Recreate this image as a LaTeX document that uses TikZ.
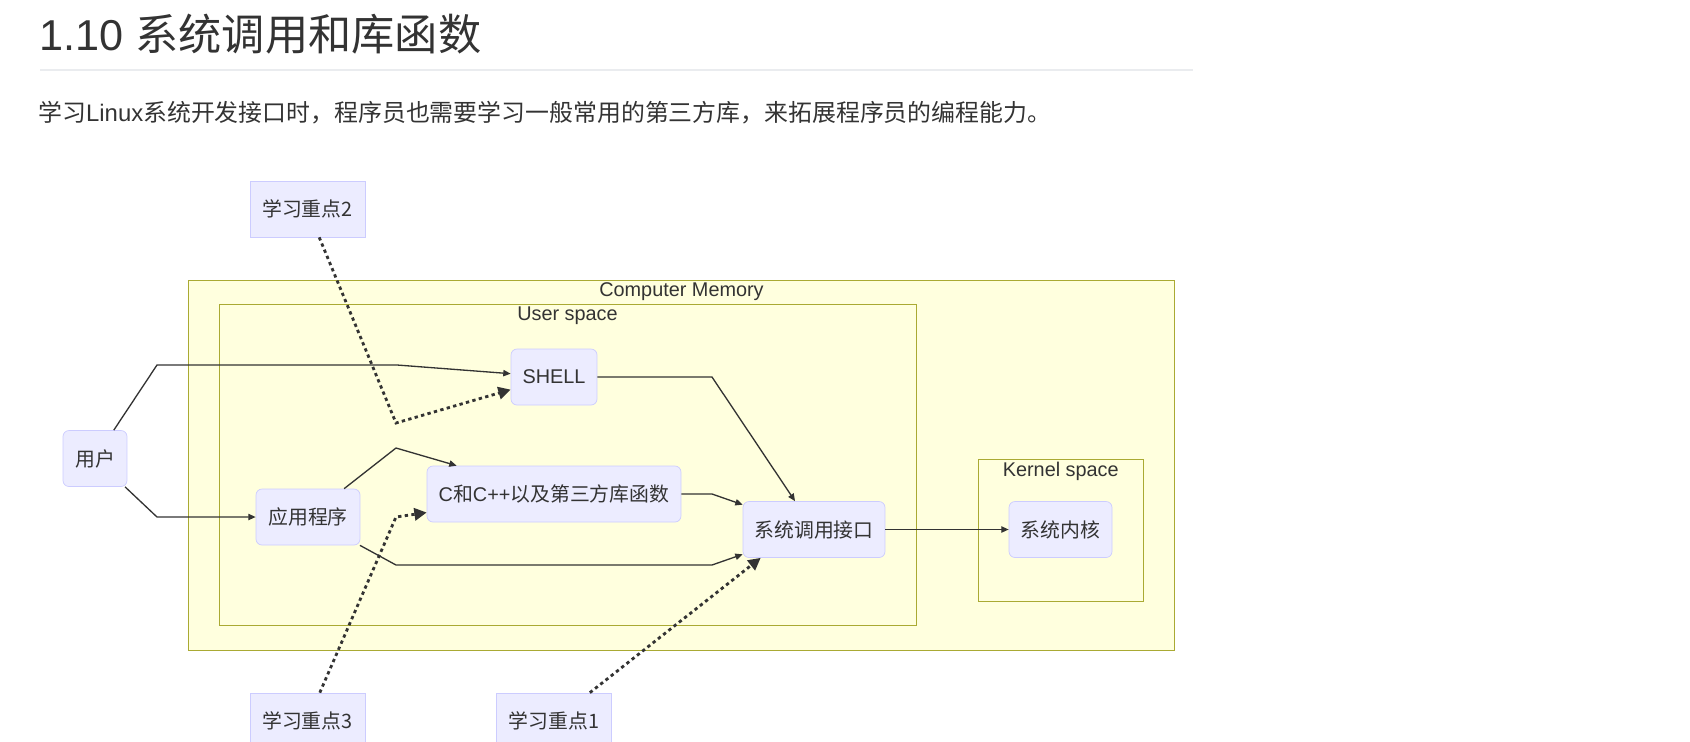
\documentclass[tikz,border=0pt]{standalone}
\usepackage{fontspec}
\setmainfont{Liberation Sans}
\newfontfamily\cjk{Noto Sans CJK SC}
\usetikzlibrary{arrows.meta, positioning}

\definecolor{nodefill}{HTML}{ECECFF}
\definecolor{nodeline}{HTML}{CCCCFF}
\definecolor{areafill}{HTML}{FFFFDE}
\definecolor{arealine}{HTML}{AAAA33}
\definecolor{inkgray}{HTML}{333333}
\definecolor{rulegray}{HTML}{EAECEF}

\newcommand{\diagfont}{\fontsize{11.3}{13.5}\selectfont}

\begin{document}
\begin{tikzpicture}[
    x=0.02cm, y=-0.02cm,
    nodebox/.style={draw=nodeline, fill=nodefill, rounded corners=3.4pt,
      minimum height=1.12cm, inner sep=0pt, font=\diagfont, text=inkgray},
    notebox/.style={draw=nodeline, fill=nodefill, minimum height=1.12cm,
      minimum width=2.3cm, inner sep=0pt, font=\diagfont\cjk, text=inkgray},
    area/.style={draw=arealine, fill=areafill, inner sep=0pt},
    arealabel/.style={inner sep=0pt, font=\diagfont, text=inkgray},
    flow/.style={draw=inkgray, line width=0.75pt, -{Triangle[length=4.2pt, width=3.6pt]}},
    note/.style={draw=inkgray, line width=1.6pt, dash pattern=on 1.9pt off 1.9pt,
      -{Triangle[length=7pt, width=7pt]}}
]
\useasboundingbox (0,0) rectangle (1690,741);

% Heading and text
\node[anchor=base west, inner sep=0pt, text=inkgray, font=\fontsize{24.6}{30}\selectfont]
  (title) at (39,50) {1.10 {\cjk 系统调用和库函数}};
\draw[rulegray, line width=0.7pt] (40,70) -- (1193,70);
\node[anchor=base west, inner sep=0pt, text=inkgray, font=\fontsize{13.6}{16}\selectfont]
  (intro) at (38,121) {{\cjk 学习}Linux{\cjk 系统开发接口时，程序员也需要学习一般常用的第三方库，来拓展程序员的编程能力。}};

% Areas
\node[area, minimum width=19.72cm, minimum height=7.4cm] (mem) at (681.5,465) {};
\node[area, minimum width=13.94cm, minimum height=6.41cm] (userspace) at (567.5,464.75) {};
\node[area, minimum width=3.31cm, minimum height=2.84cm] (kernelspace) at (1060.75,530) {};
\node[arealabel, below=0.06cm of mem.north] (memlabel) {Computer Memory};
\node[arealabel, below=0.05cm of userspace.north] (userlabel) {User space};
\node[arealabel, below=0.06cm of kernelspace.north] (kernellabel) {Kernel space};

% Nodes
\node[nodebox, minimum width=1.28cm] (user) at (95,458.5) {\cjk 用户};
\node[nodebox, minimum width=1.72cm] (shell) at (554,377) {SHELL};
\node[nodebox, minimum width=2.08cm] (app) at (308,517) {\cjk 应用程序};
\node[nodebox, minimum width=5.08cm] (cpp) at (554,494) {C{\cjk 和}C++{\cjk 以及第三方库函数}};
\node[nodebox, minimum width=2.84cm] (sys) at (814,529.5) {\cjk 系统调用接口};
\node[nodebox, minimum width=2.06cm] (kern) at (1060.5,529.5) {\cjk 系统内核};

% Notes
\node[notebox] (key2) at (307.5,209) {学习重点2};
\node[notebox] (key3) at (307.5,721) {学习重点3};
\node[notebox] (key1) at (554,721) {学习重点1};

% Arrows
\draw[flow] (user) -- (157,365) -- (397,365) -- (shell);
\draw[flow] (user) -- (157,517) -- (app);
\draw[flow] (app) -- (396,448) -- (cpp);
\draw[flow] (app) -- (396,565) -- (712,565) -- (sys);
\draw[flow] (shell) -- (712,377) -- (sys);
\draw[flow] (cpp) -- (712,494) -- (sys);
\draw[flow] (sys) -- (kern);
\draw[note] (key2) -- (396,423) -- (shell);
\draw[note] (key3) -- (396,517) -- (cpp);
\draw[note] (key1) -- (sys.208);

\end{tikzpicture}
\end{document}
